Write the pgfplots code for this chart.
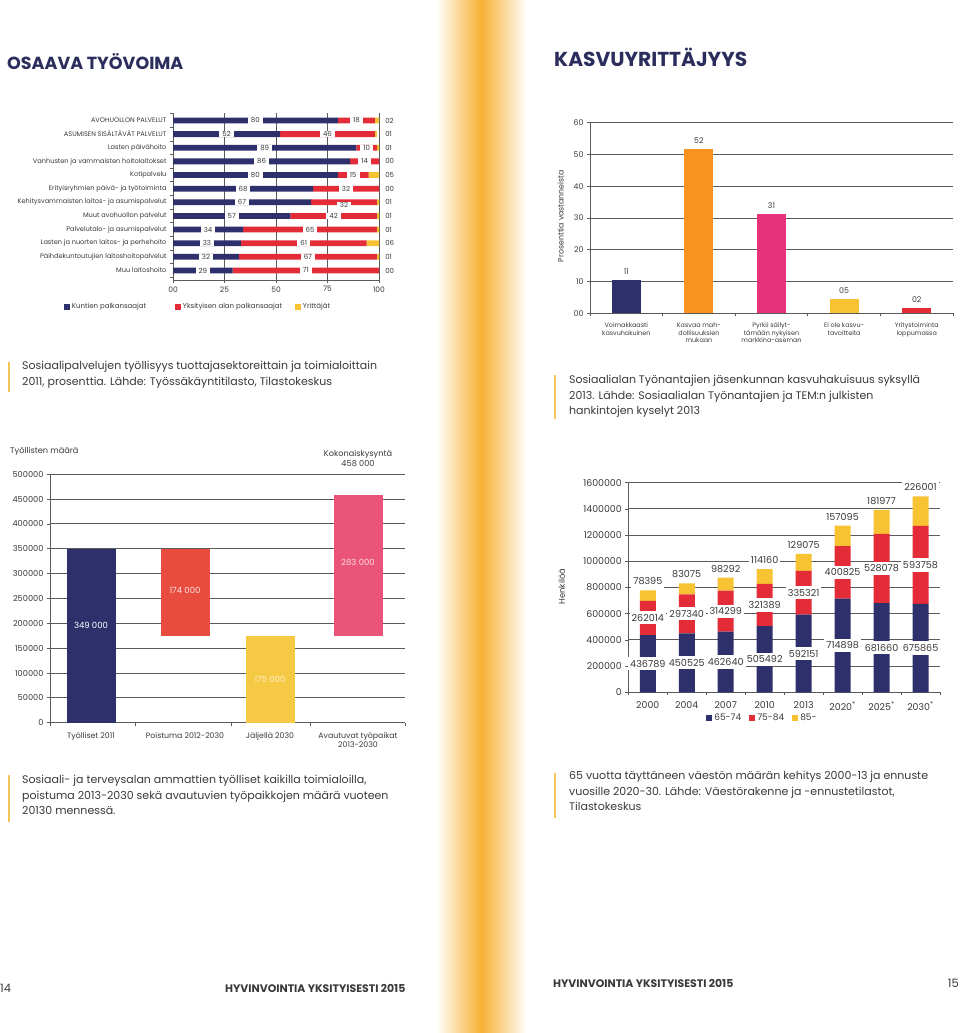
\documentclass[border=0pt]{standalone}
\usepackage{fontspec}
\setmainfont{Poppins}
\usepackage{pgfplots}
\pgfplotsset{compat=1.18}
\definecolor{cnavy}{HTML}{2E306C}
\definecolor{cred}{HTML}{E42B38}
\definecolor{cyellow}{HTML}{F8C333}
\definecolor{corange}{HTML}{F7931E}
\definecolor{cpink}{HTML}{E8317B}
\definecolor{wred}{HTML}{E84C3E}
\definecolor{wpink}{HTML}{EA5479}
\definecolor{wyellow}{HTML}{F6C944}
\definecolor{cgrid}{HTML}{5A5A5A}
\definecolor{ctext}{HTML}{3A3A3A}
\definecolor{ctitle}{HTML}{2B2D5C}
\definecolor{cband}{HTML}{F8B134}
\definecolor{cbar}{HTML}{F3C557}
\pgfplotsset{
  sqlegend/.style={legend image code/.code={\fill[##1] (0pt,-3pt) rectangle (6pt,3pt);}},
  basestyle/.style={
    scale only axis, scaled y ticks=false, scaled x ticks=false,
    axis x line*=bottom, axis y line*=left,
    axis line style={cgrid, line width=0.8pt},
    tick align=outside, major tick length=3pt,
    tick style={cgrid, line width=0.8pt},
    grid style={cgrid, line width=1pt},
    ticklabel style={text=ctext},
  }
}
\tikzset{
  lab1/.style={fill=white, inner xsep=3pt, inner ysep=0.6pt, font=\fontsize{7}{8}\selectfont, text=ctext},
  lab4/.style={fill=white, inner xsep=2pt, inner ysep=3pt, font=\fontsize{9.6}{10}\selectfont, text=ctext},
  captxt/.style={anchor=north west, align=left, inner sep=0pt, font=\fontsize{11}{15.5}\selectfont, text=ctext},
}
\begin{document}
\begin{tikzpicture}[x=1pt,y=-1pt]
\useasboundingbox (0,0) rectangle (960,1033);
\fill[white] (0,0) rectangle (960,1033);
\shade[left color=white, right color=cband] (436,0) rectangle (481,1033);
\shade[left color=cband, right color=white] (481,0) rectangle (527,1033);

% titles
\node[anchor=west, inner sep=0pt, font=\bfseries\fontsize{17.5}{20}\selectfont, text=ctitle] at (7,62) {OSAAVA TYÖVOIMA};
\node[anchor=west, inner sep=0pt, font=\bfseries\fontsize{20.2}{23}\selectfont, text=ctitle] at (554,57) {KASVUYRITTÄJYYS};

% captions
\fill[cbar] (8,362) rectangle (10,392);
\node[captxt] at (22,361) {Sosiaalipalvelujen työllisyys tuottajasektoreittain ja toimialoittain\\2011, prosenttia. Lähde: Työssäkäyntitilasto, Tilastokeskus};
\fill[cbar] (554,375) rectangle (556,419);
\node[captxt] at (569,375) {Sosiaalialan Työnantajien jäsenkunnan kasvuhakuisuus syksyllä\\2013. Lähde: Sosiaalialan Työnantajien ja TEM:n julkisten\\hankintojen kyselyt 2013};
\fill[cbar] (8,775) rectangle (10,822);
\node[captxt] at (22,775) {Sosiaali- ja terveysalan ammattien työlliset kaikilla toimialoilla,\\poistuma 2013-2030 sekä avautuvien työpaikkojen määrä vuoteen\\20130 mennessä.};
\fill[cbar] (554,773) rectangle (556,818);
\node[captxt] at (569,771) {65 vuotta täyttäneen väestön määrän kehitys 2000-13 ja ennuste\\vuosille 2020-30. Lähde: Väestörakenne ja -ennustetilastot,\\Tilastokeskus};

% footer
\node[anchor=west, inner sep=0pt, font=\fontsize{11.5}{12}\selectfont, text=ctext] at (0,988) {14};
\node[anchor=west, inner sep=0pt, font=\bfseries\fontsize{10.9}{12}\selectfont, text=ctext] at (225,988) {HYVINVOINTIA YKSITYISESTI 2015};
\node[anchor=west, inner sep=0pt, font=\bfseries\fontsize{10.9}{12}\selectfont, text=ctext] at (553,983) {HYVINVOINTIA YKSITYISESTI 2015};
\node[anchor=east, inner sep=0pt, font=\fontsize{11.5}{12}\selectfont, text=ctext] at (959,983) {15};

% ---------------- Chart 1 ----------------
\begin{axis}[basestyle,
  at={(173pt,-280pt)}, anchor=south west,
  width=206pt, height=167pt,
  xbar stacked, bar width=5.8pt, clip=false,
  xmin=0, xmax=100, ymin=0.45, ymax=12.7, y dir=reverse,
  xtick={0,25,50,75,100}, xticklabels={00,25,50,75,100},
  xmajorgrids,
  ytick={1,2,3,4,5,6,7,8,9,10,11,12},
  yticklabels={AVOHUOLLON PALVELUT, ASUMISEN SISÄLTÄVÄT PALVELUT, Lasten päivähoito, Vanhusten ja vammaisten hoitolaitokset, Kotipalvelu, Erityisryhmien päivä- ja työtoiminta, Kehitysvammaisten laitos- ja asumispalvelut, Muut avohuollon palvelut, Palvelutalo- ja asumispalvelut, Lasten ja nuorten laitos- ja perhehoito, Päihdekuntoutujien laitoshoitopalvelut, Muu laitoshoito},
  major y tick style={draw=none},
  extra y ticks={0.5,1.5,2.5,3.5,4.5,5.5,6.5,7.5,8.5,9.5,10.5,11.5,12.5},
  extra y tick labels={},
  extra y tick style={major y tick style={draw=cgrid}},
  yticklabel style={font=\fontsize{6.6}{8}\selectfont},
  xticklabel style={font=\fontsize{7.5}{8}\selectfont},
  legend style={at={(-0.545,-0.162)}, anchor=west, legend columns=3, draw=none, fill=none,
    font=\fontsize{7}{8}\selectfont, text=ctext},
]
\addplot[fill=cnavy, draw=none, sqlegend] coordinates {(80,1) (52,2) (89,3) (86,4) (80,5) (68,6) (67,7) (57,8) (34,9) (33,10) (32,11) (29,12)};
\addlegendentry{\makebox[101pt][l]{Kuntien palkansaajat}}
\addplot[fill=cred, draw=none, sqlegend] coordinates {(18,1) (46,2) (10,3) (14,4) (15,5) (32,6) (32,7) (42,8) (65,9) (61,10) (67,11) (71,12)};
\addlegendentry{\makebox[110pt][l]{Yksityisen alan palkansaajat}}
\addplot[fill=cyellow, draw=none, sqlegend] coordinates {(2,1) (1,2) (1,3) (0,4) (5,5) (0,6) (1,7) (1,8) (1,9) (6,10) (1,11) (0,12)};
\addlegendentry{Yrittäjät}
\coordinate (a1) at (axis cs:40,1);   \coordinate (b1) at (axis cs:89,1);
\coordinate (a2) at (axis cs:26,2);   \coordinate (b2) at (axis cs:75,2);
\coordinate (a3) at (axis cs:44.5,3); \coordinate (b3) at (axis cs:94,3);
\coordinate (a4) at (axis cs:43,4);   \coordinate (b4) at (axis cs:93,4);
\coordinate (a5) at (axis cs:40,5);   \coordinate (b5) at (axis cs:87.5,5);
\coordinate (a6) at (axis cs:34,6);   \coordinate (b6) at (axis cs:84,6);
\coordinate (a7) at (axis cs:33.5,7); \coordinate (b7) at (axis cs:83,7.2);
\coordinate (a8) at (axis cs:28.5,8); \coordinate (b8) at (axis cs:78,8);
\coordinate (a9) at (axis cs:17,9);   \coordinate (b9) at (axis cs:66.5,9);
\coordinate (a10) at (axis cs:16.5,10); \coordinate (b10) at (axis cs:63.5,10);
\coordinate (a11) at (axis cs:16,11);   \coordinate (b11) at (axis cs:65.5,11);
\coordinate (a12) at (axis cs:14.5,12); \coordinate (b12) at (axis cs:64.5,12);
\node[lab1, fill=none, anchor=west] at (axis cs:101.5,1) {02};
\node[lab1, fill=none, anchor=west] at (axis cs:101.5,2) {01};
\node[lab1, fill=none, anchor=west] at (axis cs:101.5,3) {01};
\node[lab1, fill=none, anchor=west] at (axis cs:101.5,4) {00};
\node[lab1, fill=none, anchor=west] at (axis cs:101.5,5) {05};
\node[lab1, fill=none, anchor=west] at (axis cs:101.5,6) {00};
\node[lab1, fill=none, anchor=west] at (axis cs:101.5,7) {01};
\node[lab1, fill=none, anchor=west] at (axis cs:101.5,8) {01};
\node[lab1, fill=none, anchor=west] at (axis cs:101.5,9) {01};
\node[lab1, fill=none, anchor=west] at (axis cs:101.5,10) {06};
\node[lab1, fill=none, anchor=west] at (axis cs:101.5,11) {01};
\node[lab1, fill=none, anchor=west] at (axis cs:101.5,12) {00};
\end{axis}
\node[lab1] at (a1) {80};  \node[lab1] at (b1) {18};
\node[lab1] at (a2) {52};  \node[lab1] at (b2) {46};
\node[lab1] at (a3) {89};  \node[lab1] at (b3) {10};
\node[lab1] at (a4) {86};  \node[lab1] at (b4) {14};
\node[lab1] at (a5) {80};  \node[lab1] at (b5) {15};
\node[lab1] at (a6) {68};  \node[lab1] at (b6) {32};
\node[lab1] at (a7) {67};  \node[lab1] at (b7) {32};
\node[lab1] at (a8) {57};  \node[lab1] at (b8) {42};
\node[lab1] at (a9) {34};  \node[lab1] at (b9) {65};
\node[lab1] at (a10) {33}; \node[lab1] at (b10) {61};
\node[lab1] at (a11) {32}; \node[lab1] at (b11) {67};
\node[lab1] at (a12) {29}; \node[lab1] at (b12) {71};

% ---------------- Chart 2 ----------------
\begin{axis}[basestyle,
  at={(590pt,-313.3pt)}, anchor=south west,
  width=363pt, height=190.6pt,
  xmin=0, xmax=5, ymin=0, ymax=60,
  ytick={0,10,20,30,40,50,60}, yticklabels={00,10,20,30,40,50,60},
  ymajorgrids,
  xtick={0.5,1.5,2.5,3.5,4.5},
  xticklabels={{Voimakkaasti\\kasvuhakuinen},{Kasvaa mah-\\dollisuuksien\\mukaan},{Pyrkii säilyt-\\tämään nykyisen\\markkina-aseman},{Ei ole kasvu-\\tavoitteita},{Yritystoiminta\\loppumassa}},
  major x tick style={draw=none},
  extra x ticks={0,1,2,3,4,5}, extra x tick labels={},
  extra x tick style={major x tick style={draw=cgrid}},
  xticklabel style={align=center, font=\fontsize{6.4}{7.6}\selectfont, yshift=-3pt},
  yticklabel style={font=\fontsize{7.8}{8}\selectfont},
  ylabel={Prosenttia vastanneista},
  ylabel style={at={(axis description cs:-0.081,0.51)}, anchor=center, font=\fontsize{7.8}{8}\selectfont, text=ctext},
  nodes near coords, point meta=explicit symbolic,
  every node near coord/.append style={font=\fontsize{7.8}{8}\selectfont, text=ctext, yshift=2pt},
]
\addplot[ybar, bar width=29pt, fill=cnavy, draw=none] coordinates {(0.5,10.5) [11]};
\addplot[ybar, bar width=29pt, fill=corange, draw=none] coordinates {(1.5,51.6) [52]};
\addplot[ybar, bar width=29pt, fill=cpink, draw=none] coordinates {(2.5,31.2) [31]};
\addplot[ybar, bar width=29pt, fill=cyellow, draw=none] coordinates {(3.5,4.5) [05]};
\addplot[ybar, bar width=29pt, fill=cred, draw=none] coordinates {(4.5,1.7) [02]};
\end{axis}

% ---------------- Chart 3 ----------------
\node[anchor=west, inner sep=0pt, font=\fontsize{8.2}{9}\selectfont, text=ctext] at (10,451) {Työllisten määrä};
\node[align=center, inner sep=0pt, font=\fontsize{8.2}{10}\selectfont, text=ctext] at (358,458) {Kokonaiskysyntä\\458 000};
\begin{axis}[basestyle,
  at={(50pt,-722.7pt)}, anchor=south west,
  width=355pt, height=248.4pt,
  xmin=50, xmax=405, ymin=0, ymax=500000,
  ybar stacked, bar width=49pt,
  ytick={0,50000,100000,150000,200000,250000,300000,350000,400000,450000,500000},
  yticklabels={0,50000,100000,150000,200000,250000,300000,350000,400000,450000,500000},
  ymajorgrids,
  xtick={91,185,270,358},
  xticklabels={Työlliset 2011, Poistuma 2012-2030, Jäljellä 2030, {Avautuvat työpaikat\\2013-2030}},
  major x tick style={draw=none},
  extra x ticks={50,135,231,310,405}, extra x tick labels={},
  extra x tick style={major x tick style={draw=cgrid}},
  xticklabel style={align=center, font=\fontsize{7.8}{9}\selectfont, yshift=-3pt},
  yticklabel style={font=\fontsize{8.2}{9}\selectfont},
]
\addplot[draw=none, fill=none, forget plot] coordinates {(91,0) (185,175000) (270,0) (358,175000)};
\addplot[draw=none, fill=cnavy] coordinates {(91,349000) (185,0) (270,0) (358,0)};
\addplot[draw=none, fill=wred] coordinates {(91,0) (185,174000) (270,0) (358,0)};
\addplot[draw=none, fill=wyellow] coordinates {(91,0) (185,0) (270,175000) (358,0)};
\addplot[draw=none, fill=wpink] coordinates {(91,0) (185,0) (270,0) (358,283000)};
\coordinate (w1) at (axis cs:91,196000);
\coordinate (w2) at (axis cs:185,266000);
\coordinate (w3) at (axis cs:270,88000);
\coordinate (w4) at (axis cs:358,323000);
\end{axis}
\node[font=\fontsize{8.5}{9}\selectfont, text=white] at (w1) {349 000};
\node[font=\fontsize{8.5}{9}\selectfont, text=white!85!wred] at (w2) {174 000};
\node[font=\fontsize{8.5}{9}\selectfont, text=white!75!wyellow] at (w3) {175 000};
\node[font=\fontsize{8.5}{9}\selectfont, text=white!80!wpink] at (w4) {283 000};

% ---------------- Chart 4 ----------------
\begin{axis}[basestyle,
  at={(628.3pt,-692.3pt)}, anchor=south west,
  width=311.7pt, height=209.6pt,
  xmin=-0.5, xmax=7.5, ymin=0, ymax=1600000,
  ybar stacked, bar width=16pt, clip=false,
  ytick={0,200000,400000,600000,800000,1000000,1200000,1400000,1600000},
  yticklabels={0,200000,400000,600000,800000,1000000,1200000,1400000,1600000},
  ymajorgrids,
  xtick={0,1,2,3,4,5,6,7},
  xticklabels={2000,2004,2007,2010,2013,2020\textsuperscript{*},2025\textsuperscript{*},2030\textsuperscript{*}},
  major x tick style={draw=none},
  extra x ticks={-0.5,0.5,1.5,2.5,3.5,4.5,5.5,6.5,7.5}, extra x tick labels={},
  extra x tick style={major x tick style={draw=cgrid}},
  xticklabel style={font=\fontsize{9.4}{10}\selectfont, yshift=-3pt},
  yticklabel style={font=\fontsize{9.4}{10}\selectfont},
  ylabel={Henkilöä},
  ylabel style={at={(axis description cs:-0.2137,0.504)}, anchor=center, font=\fontsize{8.3}{9}\selectfont, text=ctext},
  legend style={at={(0.24,-0.121)}, anchor=west, legend columns=3, draw=none, fill=none,
    font=\fontsize{9}{10}\selectfont, text=ctext},
]
\addplot[fill=cnavy, draw=none, sqlegend] coordinates {(0,436789) (1,450525) (2,462640) (3,505492) (4,592151) (5,714898) (6,681660) (7,675865)};
\addlegendentry{\makebox[33pt][l]{65-74}}
\addplot[fill=cred, draw=none, sqlegend] coordinates {(0,262014) (1,297340) (2,314299) (3,321389) (4,335321) (5,400825) (6,528078) (7,593758)};
\addlegendentry{\makebox[33pt][l]{75-84}}
\addplot[fill=cyellow, draw=none, sqlegend] coordinates {(0,78395) (1,83075) (2,98292) (3,114160) (4,129075) (5,157095) (6,181977) (7,226001)};
\addlegendentry{85-}
\coordinate (n0) at (axis cs:0,218395); \coordinate (r0) at (axis cs:0,567796); \coordinate (y0) at (axis cs:0,845898);
\coordinate (n1) at (axis cs:1,225263); \coordinate (r1) at (axis cs:1,599195); \coordinate (y1) at (axis cs:1,899640);
\coordinate (n2) at (axis cs:2,231320); \coordinate (r2) at (axis cs:2,619790); \coordinate (y2) at (axis cs:2,943931);
\coordinate (n3) at (axis cs:3,252746); \coordinate (r3) at (axis cs:3,666187); \coordinate (y3) at (axis cs:3,1009741);
\coordinate (n4) at (axis cs:4,296076); \coordinate (r4) at (axis cs:4,759812); \coordinate (y4) at (axis cs:4,1125247);
\coordinate (n5) at (axis cs:5,357449); \coordinate (r5) at (axis cs:5,915311); \coordinate (y5) at (axis cs:5,1341518);
\coordinate (n6) at (axis cs:6,340830); \coordinate (r6) at (axis cs:6,945699); \coordinate (y6) at (axis cs:6,1460415);
\coordinate (n7) at (axis cs:7,337933); \coordinate (r7) at (axis cs:7,972744); \coordinate (y7) at (axis cs:7,1564324);
\end{axis}
\node[lab4] at (n0) {436789}; \node[lab4] at (r0) {262014}; \node[lab4] at (y0) {78395};
\node[lab4] at (n1) {450525}; \node[lab4] at (r1) {297340}; \node[lab4] at (y1) {83075};
\node[lab4] at (n2) {462640}; \node[lab4] at (r2) {314299}; \node[lab4] at (y2) {98292};
\node[lab4] at (n3) {505492}; \node[lab4] at (r3) {321389}; \node[lab4] at (y3) {114160};
\node[lab4] at (n4) {592151}; \node[lab4] at (r4) {335321}; \node[lab4] at (y4) {129075};
\node[lab4] at (n5) {714898}; \node[lab4] at (r5) {400825}; \node[lab4] at (y5) {157095};
\node[lab4] at (n6) {681660}; \node[lab4] at (r6) {528078}; \node[lab4] at (y6) {181977};
\node[lab4] at (n7) {675865}; \node[lab4] at (r7) {593758}; \node[lab4] at (y7) {226001};
\end{tikzpicture}
\end{document}
